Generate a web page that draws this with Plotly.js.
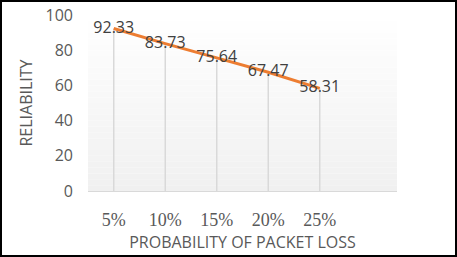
<!DOCTYPE html>
<html><head><meta charset="utf-8">
<script src="https://cdn.plot.ly/plotly-3.0.1.min.js"></script>
<style>html,body{margin:0;padding:0;background:#fff}#c{width:457px;height:257px}</style>
</head><body><div id="c"></div>
<script>
var categories = ['5%', '10%', '15%', '20%', '25%'];
var reliability = [92.33, 83.73, 75.64, 67.47, 58.31];
var yTicks = [0, 20, 40, 60, 80, 100];

var xIdx = categories.map(function(_, i){ return i; });
var zeros = reliability.map(function(){ return 0; });

var L = 88, R = 60, T = 15, B = 66, W = 457, H = 257;
var pw = W - L - R, ph = H - T - B;

// plot background gradient bands (decoration)
var shapes = [];
var nb = 30;
for (var k = 0; k < nb; k++) {
  var t = k / (nb - 1);
  var g = Math.round(255 - 15 * t);
  shapes.push({type:'rect', xref:'paper', yref:'paper', x0:0, x1:1,
    y0: 1 - (k+1)/nb, y1: 1 - k/nb, line:{width:0},
    fillcolor:'rgb('+g+','+g+','+g+')', layer:'below'});
}
// outer frame at the image border
shapes.push({type:'rect', xref:'paper', yref:'paper',
  x0:(1 - L)/pw, x1:(W - 1 - L)/pw, y0:(T + ph - (H - 1))/ph, y1:(T + ph - 1)/ph,
  line:{color:'#000', width:2}, fillcolor:'rgba(0,0,0,0)'});

var drop = {
  x: xIdx, y: reliability, type:'scatter', mode:'markers',
  marker:{size:1, color:'rgba(0,0,0,0)'},
  error_y:{type:'data', symmetric:false, array:zeros, arrayminus:reliability,
    color:'#d9d9d9', thickness:1.5, width:0},
  hoverinfo:'skip', showlegend:false
};
var line = {
  x: xIdx, y: reliability, type:'scatter', mode:'lines+text',
  line:{color:'#ED7D31', width:3},
  text: reliability.map(function(v){ return v.toFixed(2); }),
  textposition:'middle center',
  textfont:{family:'Open Sans, Liberation Sans, sans-serif', size:16, color:'#404040'},
  showlegend:false
};

var layout = {
  width:W, height:H,
  margin:{l:L, r:R, t:T, b:B},
  paper_bgcolor:'#fff', plot_bgcolor:'rgba(0,0,0,0)',
  shapes: shapes,
  xaxis:{
    range:[-0.5, 5.5], tickmode:'array', tickvals:xIdx, ticktext:categories,
    showgrid:false, zeroline:false, showline:true, linecolor:'#d9d9d9', linewidth:1,
    ticks:'', ticklen:0, ticklabelstandoff:12,
    tickfont:{family:'Liberation Serif, serif', size:18, color:'#595959'},
    title:{text:'PROBABILITY OF PACKET LOSS', standoff:8,
      font:{family:'Open Sans, Liberation Sans, sans-serif', size:16, color:'#595959'}}
  },
  yaxis:{
    range:[0, 100], tickmode:'array', tickvals:yTicks,
    showgrid:false, zeroline:false, showline:false, ticks:'', ticklabelstandoff:14,
    tickfont:{family:'Open Sans, Liberation Sans, sans-serif', size:16, color:'#595959'},
    title:{text:'RELIABILITY', standoff:8,
      font:{family:'Open Sans, Liberation Sans, sans-serif', size:16, color:'#595959'}}
  }
};
Plotly.newPlot('c', [drop, line], layout, {displayModeBar:false, staticPlot:true});
</script></body></html>
